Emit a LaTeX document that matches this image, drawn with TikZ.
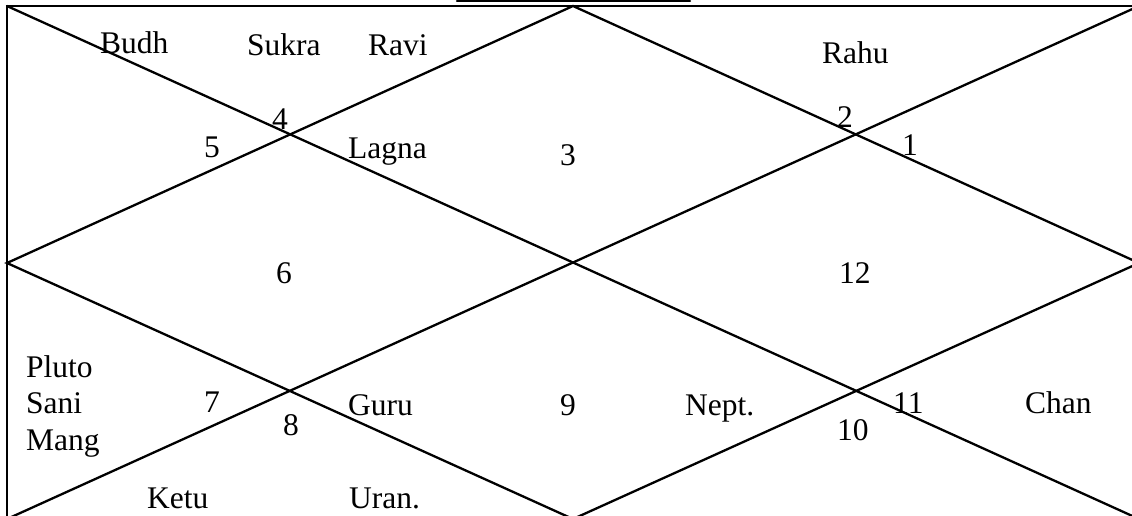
\documentclass[tikz,border=0pt]{standalone}
\usepackage{fontspec}
\setmainfont{Liberation Serif}
\begin{document}
\begin{tikzpicture}[x=1pt,y=-1pt,
  ln/.style={line width=2.3pt,line cap=round},
  lbl/.style={anchor=base west,inner sep=0pt,font=\fontsize{31.5}{38}\selectfont}]
\useasboundingbox (0,0) rectangle (1132,515);
\clip (0,0) rectangle (1132,515);
\coordinate (tl) at (7,6);
\coordinate (tr) at (1139,6);
\coordinate (bl) at (7,519);
\coordinate (br) at (1139,519);
\coordinate (t) at (573,6);
\coordinate (l) at (7,263);
\coordinate (b) at (573,519);
\coordinate (r) at (1139,263);
\coordinate (ua) at (457,1);
\coordinate (ub) at (690,1);
\draw[ln] (tl) rectangle (br);
\draw[ln] (ua) -- (ub);
\draw[ln] (tl) -- (br);
\draw[ln] (tr) -- (bl);
\draw[ln] (t) -- (l) -- (b) -- (r) -- cycle;
% labels
\node[lbl] (budh) at (100,53) {Budh};
\node[lbl] (sukra) at (247,55) {Sukra};
\node[lbl] (ravi) at (368,55) {Ravi};
\node[lbl] (h4) at (272,129) {4};
\node[lbl] (h5) at (204,157) {5};
\node[lbl] (lagna) at (348,158) {Lagna};
\node[lbl] (h3) at (560,165) {3};
\node[lbl] (rahu) at (822,63) {Rahu};
\node[lbl] (h2) at (837,127) {2};
\node[lbl] (h1) at (902,155) {1};
\node[lbl] (h6) at (276,283) {6};
\node[lbl] (h12) at (839,283) {12};
\node[lbl] (pluto) at (26,377) {Pluto};
\node[lbl] (sani) at (26,413) {Sani};
\node[lbl] (mang) at (26,450) {Mang};
\node[lbl] (h7) at (204,412) {7};
\node[lbl] (h8) at (283,435) {8};
\node[lbl] (guru) at (348,415) {Guru};
\node[lbl] (h9) at (560,415) {9};
\node[lbl] (nept) at (685,415) {Nept.};
\node[lbl] (h10) at (837,440) {10};
\node[lbl] (h11) at (893,413) {11};
\node[lbl] (chan) at (1025,413) {Chan};
\node[lbl] (ketu) at (147,508) {Ketu};
\node[lbl] (uran) at (349,508) {Uran.};
\end{tikzpicture}
\end{document}
